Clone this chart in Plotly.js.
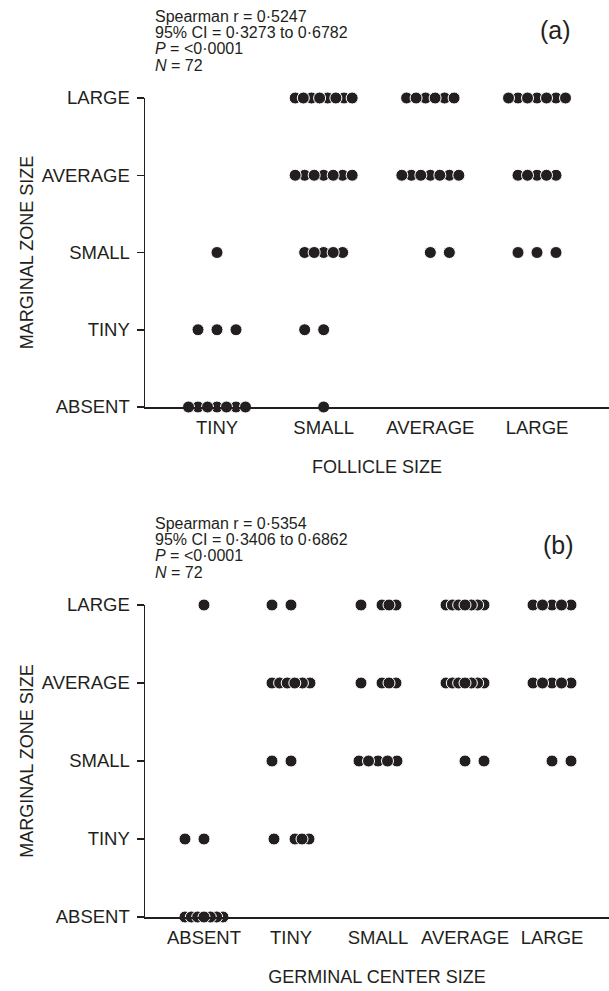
<!DOCTYPE html>
<html><head><meta charset="utf-8">
<script src="https://cdn.plot.ly/plotly-3.0.1.min.js"></script>
<style>html,body{margin:0;padding:0;background:#fff}</style>
</head><body><div id="chart" style="width:609px;height:991px"></div>
<script>
// Category labels
const marginalLevels = ['ABSENT','TINY','SMALL','AVERAGE','LARGE'];
const follicleCats = ['TINY','SMALL','AVERAGE','LARGE'];
const germinalCats = ['ABSENT','TINY','SMALL','AVERAGE','LARGE'];

// Panel (a): number of cases per follicle-size category, for each marginal-zone level
const aAbsent  = [7,1,0,0];
const aTiny    = [3,2,0,0];
const aSmall   = [1,5,2,3];
const aAverage = [0,7,7,5];
const aLarge   = [0,8,6,7];

// Panel (b): number of cases per germinal-centre category, for each marginal-zone level
const bAbsent  = [7,0,0,0,0];
const bTiny    = [2,4,0,0,0];
const bSmall   = [0,2,5,2,2];
const bAverage = [0,6,4,7,5];
const bLarge   = [1,2,4,7,5];

const statsA = ['Spearman r = 0·5247','95% CI = 0·3273 to 0·6782','<i>P</i> = &lt;0·0001','<i>N</i> = 72'];
const statsB = ['Spearman r = 0·5354','95% CI = 0·3406 to 0·6862','<i>P</i> = &lt;0·0001','<i>N</i> = 72'];

const countsA = [aAbsent,aTiny,aSmall,aAverage,aLarge];
const countsB = [bAbsent,bTiny,bSmall,bAverage,bLarge];

// Lay the dots of each cell out side by side (dot-plot style), working in pixel offsets
function swarm(counts, pxPerUnit, maxSpanPx){
  const xs=[], ys=[];
  counts.forEach((row,yi)=>row.forEach((n,xi)=>{
    if(!n) return;
    const mid = (row.length-1)/2;
    const side = xi < mid ? -1 : 1;
    let order = [];
    if(n===2){
      // pair: one dot on the category, the other pushed outward
      order = [0, side*19].map(o=>({off:o}));
    } else if(n<=3){
      for(let i=0;i<n;i++) order.push({off:(i-(n-1)/2)*19});
    } else if(n===4){
      // one free dot plus a tight group of three
      order = [{off:-17},{off:11-7},{off:11+7},{off:11}];
    } else {
      const step = Math.min(9.5, maxSpanPx/(n-1));
      const pts=[];
      for(let i=0;i<n;i++) pts.push({off:(i-(n-1)/2)*step, i:i});
      if(step>=8){
        const c=(n-1)/2;
        const behind = Number.isInteger(c) ? c%2 : 0;
        order = pts.filter(p=>p.i%2===behind).concat(pts.filter(p=>p.i%2!==behind));
      } else {
        order = pts.slice().sort((a,b)=>Math.abs(b.off)-Math.abs(a.off));
      }
    }
    order.forEach(p=>{ xs.push(xi + p.off/pxPerUnit); ys.push(yi); });
  }));
  return {xs, ys};
}

const W=609, H=991;
const ink='#231f20';
const font='Liberation Sans, Arial, Helvetica, sans-serif';

const sa = swarm(countsA, 106.67, 57);
const sb = swarm(countsB, 87, 38);

const marker = {color: ink, size: 12, line:{color:'#ffffff', width:1}};

const traces = [
  {x: sa.xs, y: sa.ys, type:'scatter', mode:'markers', marker: marker, xaxis:'x', yaxis:'y', cliponaxis:false, hoverinfo:'skip'},
  {x: sb.xs, y: sb.ys, type:'scatter', mode:'markers', marker: marker, xaxis:'x2', yaxis:'y2', cliponaxis:false, hoverinfo:'skip'}
];

const tickSize = 18.5, titleSize = 18, statSize = 16;

function xAx(range, cats, title, anchor){
  return {domain:[145/W,1], anchor:anchor, range:range, tickvals:cats.map((_,i)=>i), ticktext:cats,
    showline:true, linecolor:ink, linewidth:1.5, ticks:'', showgrid:false, zeroline:false,
    tickfont:{size:tickSize, color:ink, family:font}, ticklabelstandoff:3,
    title:{text:title, font:{size:titleSize, color:ink, family:font}, standoff:23}};
}
function yAx(dom, anchor){
  return {domain:dom, anchor:anchor, range:[0,4], tickvals:marginalLevels.map((_,i)=>i), ticktext:marginalLevels,
    showline:true, linecolor:ink, linewidth:1.5, ticks:'outside', ticklen:7, tickwidth:1.5, tickcolor:ink,
    showgrid:false, zeroline:false, tickfont:{size:tickSize, color:ink, family:font}, ticklabelstandoff:3,
    title:{text:'MARGINAL ZONE SIZE', font:{size:titleSize, color:ink, family:font}, standoff:3}};
}

function statLines(lines, topPx){
  return lines.map((t,i)=>({xref:'paper', yref:'paper', x:153/W, y:1-(topPx+i*16.2)/H,
    xanchor:'left', yanchor:'middle', align:'left', showarrow:false, text:t,
    font:{size:statSize, color:ink, family:font}}));
}

const layout = {
  width:W, height:H, margin:{l:0,r:0,t:0,b:0}, showlegend:false,
  paper_bgcolor:'#fff', plot_bgcolor:'#fff', font:{family:font, color:ink},
  xaxis: xAx([-0.675,3.675], follicleCats, 'FOLLICLE SIZE', 'y'),
  yaxis: yAx([1-407/H, 1-98/H], 'x'),
  xaxis2: xAx([-0.678,4.655], germinalCats, 'GERMINAL CENTER SIZE', 'y2'),
  yaxis2: yAx([1-917/H, 1-605/H], 'x2'),
  annotations: statLines(statsA, 16.5).concat(statLines(statsB, 523.5)).concat([
    {xref:'paper', yref:'paper', x:555/W, y:1-30/H, xanchor:'center', yanchor:'middle', showarrow:false,
     text:'(a)', font:{size:25, color:ink, family:font}},
    {xref:'paper', yref:'paper', x:558/W, y:1-545/H, xanchor:'center', yanchor:'middle', showarrow:false,
     text:'(b)', font:{size:25, color:ink, family:font}}
  ])
};

Plotly.newPlot('chart', traces, layout, {staticPlot:true, displayModeBar:false});
</script>
</body></html>
